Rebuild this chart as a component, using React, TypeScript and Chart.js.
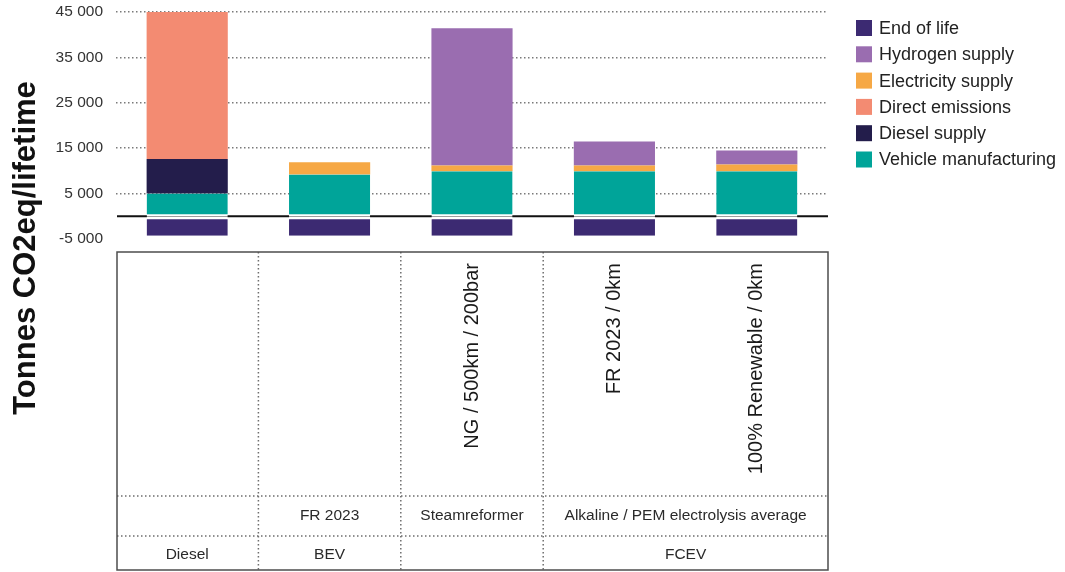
import React, { useEffect, useRef } from 'react';
import { Chart, registerables } from 'chart.js';

Chart.register(...registerables);

const FONT = "'Liberation Sans', Arial, Helvetica, sans-serif";

// ---- data ----
const categories = ['Diesel', 'BEV', 'NG / 500km / 200bar', 'FR 2023 / 0km', '100% Renewable / 0km'];
const rotatedLabels = ['', '', 'NG / 500km / 200bar', 'FR 2023 / 0km', '100% Renewable / 0km'];
const pathwayRow = [
  { label: '', first: 0, last: 0 },
  { label: 'FR 2023', first: 1, last: 1 },
  { label: 'Steamreformer', first: 2, last: 2 },
  { label: 'Alkaline / PEM electrolysis average', first: 3, last: 4 },
];
const vehicleRow = [
  { label: 'Diesel', first: 0, last: 0 },
  { label: 'BEV', first: 1, last: 1 },
  { label: '', first: 2, last: 2 },
  { label: 'FCEV', first: 3, last: 4 },
];
const columnSeparators = [1, 2, 3];

const yTicks = [-5000, 5000, 15000, 25000, 35000, 45000];
const yTitle = 'Tonnes CO2eq/lifetime';

const vehicleManufacturing = [5000, 9200, 9900, 9900, 9900];
const dieselSupply = [7600, null, null, null, null];
const directEmissions = [32400, null, null, null, null];
const electricitySupply = [null, 2700, 1300, 1300, 1500];
const hydrogenSupply = [null, null, 30200, 5300, 3100];
const endOfLife = [-4300, -4300, -4300, -4300, -4300];

const seriesNames = ['Vehicle manufacturing', 'Diesel supply', 'Direct emissions', 'Electricity supply', 'Hydrogen supply', 'End of life'];
const seriesColors = ['#00a499', '#231d4b', '#f38b72', '#f6a845', '#9a6db0', '#3c2a72'];

function fmt(v: number): string {
  const s = String(Math.abs(v)).replace(/\B(?=(\d{3})+(?!\d))/g, ' ');
  return (v < 0 ? '-' : '') + s;
}

const zeroLinePlugin = {
  id: 'zeroLine',
  beforeDatasetsDraw(chart: any) {
    const { ctx, chartArea, scales } = chart;
    const y = scales.y.getPixelForValue(0);
    ctx.save();
    ctx.strokeStyle = '#111';
    ctx.lineWidth = 2;
    ctx.beginPath();
    ctx.moveTo(chartArea.left + 1, y);
    ctx.lineTo(chartArea.right, y);
    ctx.stroke();
    ctx.restore();
  },
};

const extrasPlugin = {
  id: 'extras',
  afterDraw(chart: any) {
    const { ctx, chartArea, scales } = chart;
    const x = scales.x;
    const centers = categories.map((_, i) => x.getPixelForValue(i));
    const half = (centers[1] - centers[0]) / 2;
    const edges = centers.map((c) => c - half).concat([centers[centers.length - 1] + half]);
    const left = chartArea.left + 1;
    const right = chartArea.right;
    const top = 252;
    const r1 = 496;
    const r2 = 536;
    const bottom = 570;

    ctx.save();
    ctx.strokeStyle = '#6e6e6e';
    ctx.lineWidth = 1.5;
    ctx.setLineDash([1.5, 2.5]);
    const line = (x1: number, y1: number, x2: number, y2: number) => {
      ctx.beginPath();
      ctx.moveTo(x1, y1);
      ctx.lineTo(x2, y2);
      ctx.stroke();
    };
    [r1, r2].forEach((y) => line(left, y, right, y));
    columnSeparators.forEach((i) => line(edges[i], top, edges[i], bottom));
    ctx.setLineDash([]);
    ctx.strokeStyle = '#4d4d4d';
    ctx.lineWidth = 1.5;
    ctx.strokeRect(left, top, right - left, bottom - top);

    ctx.fillStyle = '#1a1a1a';
    ctx.font = `20px ${FONT}`;
    rotatedLabels.forEach((label, i) => {
      if (!label) return;
      ctx.save();
      ctx.translate(centers[i], 263);
      ctx.rotate(-Math.PI / 2);
      ctx.textAlign = 'right';
      ctx.textBaseline = 'middle';
      ctx.fillText(label, 0, 0);
      ctx.restore();
    });

    ctx.fillStyle = '#2a2a2a';
    ctx.font = `15.5px ${FONT}`;
    ctx.textAlign = 'center';
    ctx.textBaseline = 'middle';
    const rowText = (row: any[], y: number) => {
      row.forEach((cell) => {
        if (!cell.label) return;
        const cx = (edges[cell.first] + edges[cell.last + 1]) / 2;
        ctx.fillText(cell.label, cx, y);
      });
    };
    rowText(pathwayRow, 516);
    rowText(vehicleRow, 555);

    ctx.save();
    ctx.fillStyle = '#111';
    ctx.font = `bold 31px ${FONT}`;
    ctx.translate(35, 248);
    ctx.rotate(-Math.PI / 2);
    ctx.textAlign = 'center';
    ctx.textBaseline = 'alphabetic';
    ctx.fillText(yTitle, 0, 0);
    ctx.restore();

    const ds = chart.data.datasets.slice().reverse();
    ctx.font = `18px ${FONT}`;
    ctx.textAlign = 'left';
    ctx.textBaseline = 'middle';
    ds.forEach((d: any, k: number) => {
      const y = 28 + k * 26.3;
      ctx.fillStyle = d.backgroundColor;
      ctx.fillRect(856, y - 8, 16, 16);
      ctx.fillStyle = '#222';
      ctx.fillText(d.label, 879, y + 1);
    });
    ctx.restore();
  },
};

export default function App() {
  const canvasRef = useRef<HTMLCanvasElement | null>(null);

  useEffect(() => {
    if (!canvasRef.current) return;
    const values = [vehicleManufacturing, dieselSupply, directEmissions, electricitySupply, hydrogenSupply, endOfLife];
    const datasets = values.map((data, i) => {
      let borderWidth: any = 0;
      if (i === 0) borderWidth = { top: 0, right: 0, left: 0, bottom: 2 };
      if (i === 5) borderWidth = { top: 3, right: 0, left: 0, bottom: 0 };
      return {
        label: seriesNames[i],
        data,
        backgroundColor: seriesColors[i],
        borderColor: '#ffffff',
        borderWidth,
        borderSkipped: false,
        barPercentage: 0.57,
        categoryPercentage: 1.0,
        stack: 's',
      };
    });

    const chart = new Chart(canvasRef.current, {
      type: 'bar',
      data: { labels: categories, datasets: datasets as any },
      options: {
        responsive: false,
        animation: false,
        devicePixelRatio: 1,
        layout: { padding: { top: 12, right: 237, bottom: 333, left: 0 } },
        plugins: {
          legend: { display: false },
          tooltip: { enabled: false },
          title: { display: false },
        },
        scales: {
          x: { type: 'category', stacked: true, display: false, offset: true },
          y: {
            stacked: true,
            min: -5000,
            max: 45000,
            afterBuildTicks: (s: any) => {
              s.ticks = yTicks.map((v) => ({ value: v }));
            },
            afterFit: (s: any) => {
              s.width = 116;
              s.paddingTop = 0;
              s.paddingBottom = 0;
            },
            grid: {
              color: (c: any) => (c.tick && c.tick.value === -5000 ? 'rgba(0,0,0,0)' : '#7a7a7a'),
              lineWidth: 1.5,
              drawTicks: false,
            },
            border: { display: false, dash: [1.5, 2.5] },
            ticks: {
              padding: 13,
              color: '#333',
              font: { family: FONT, size: 15.5 },
              callback: (v: any) => fmt(Number(v)),
            },
          },
        },
      } as any,
      plugins: [zeroLinePlugin, extrasPlugin],
    });
    return () => chart.destroy();
  }, []);

  return (
    <div style={{ position: 'fixed', left: 0, top: 0, width: 1065, height: 572, background: '#fff' }}>
      <canvas ref={canvasRef} width={1065} height={572} style={{ display: 'block' }} />
    </div>
  );
}
